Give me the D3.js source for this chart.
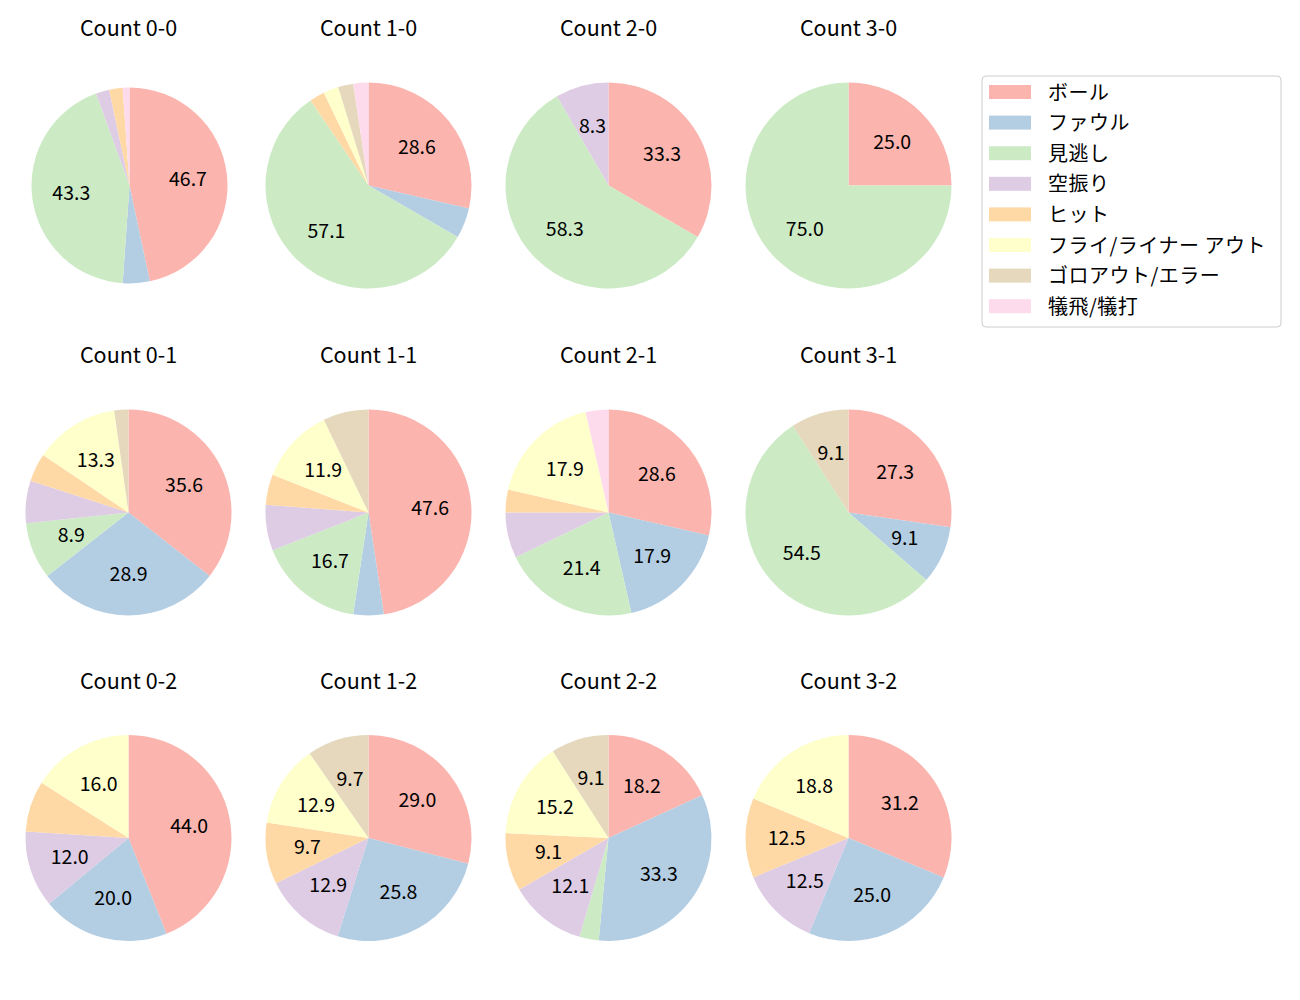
<!DOCTYPE html>
<html><head><meta charset="utf-8">
<script src="https://cdn.jsdelivr.net/npm/d3@7"></script>
<style>body{margin:0;background:#fff;} text{font-family:"Noto Sans CJK JP","Noto Sans",sans-serif;}</style>
</head><body>
<svg id="chart" width="1300" height="1000"></svg>
<script>
// Categories (legend order)
const categories = ["ボール","ファウル","見逃し","空振り","ヒット","フライ/ライナー アウト","ゴロアウト/エラー","犠飛/犠打"];
// Ball counts (one pie each)
const countLabels = ["0-0","1-0","2-0","3-0","0-1","1-1","2-1","3-1","0-2","1-2","2-2","3-2"];
// Series values: number of pitches per outcome, per count
const ball      = [42,12,4,1,16,20,8,3,11,9,6,5];
const foul      = [4,2,0,0,13,2,5,1,5,8,11,4];
const called    = [39,24,7,3,4,7,6,6,0,0,1,0];
const swinging  = [2,0,1,0,3,3,2,0,3,4,4,2];
const hit       = [2,1,0,0,2,2,1,0,2,3,3,2];
const flyLiner  = [0,1,0,0,6,5,5,0,4,4,5,3];
const grounder  = [0,1,0,0,1,3,0,1,0,3,3,0];
const sacrifice = [1,1,0,0,0,0,1,0,0,0,0,0];

const series = [ball,foul,called,swinging,hit,flyLiner,grounder,sacrifice];
const colors = ["#fbb4ae","#b3cde3","#ccebc5","#decbe4","#fed9a6","#ffffcc","#e5d8bd","#fddaec"];

// layout
const colX = [128.5,368.5,608.5,848.5];
const rowY = [185.5,512.5,838];
const radii = [98,103,103,103,103,103,103,103,103,103,103,103];

// Python-style "%.1f" (round half to even on exact halves)
function fmt1(x) {
  const s = x * 10, f = Math.floor(s), frac = s - f;
  let r;
  if (Math.abs(frac - 0.5) < 1e-9) r = (f % 2 === 0) ? f : f + 1;
  else r = Math.round(s);
  return (r / 10).toFixed(1);
}

const svg = d3.select("#chart");
const color = d3.scaleOrdinal().domain(categories).range(colors);
const pie = d3.pie().sort(null).value(d => d.v);

countLabels.forEach((lab, i) => {
  const col = i % 4, row = Math.floor(i / 4);
  const cx = colX[col] + (i === 0 ? 1 : 0), cy = rowY[row];
  const r = radii[i];
  const data = categories.map((c, k) => ({c, v: series[k][i]}));
  const total = d3.sum(data, d => d.v);
  const g = svg.append("g").attr("transform", `translate(${cx},${cy})`);
  const arc = d3.arc().innerRadius(0).outerRadius(r);
  const arcs = pie(data);
  g.selectAll("path").data(arcs).join("path")
    .attr("d", arc).attr("fill", d => color(d.data.c));
  const labelArc = d3.arc().innerRadius(r * 0.6).outerRadius(r * 0.6);
  g.selectAll("text.pct").data(arcs.filter(d => d.data.v / total * 100 > 8.1)).join("text")
    .attr("class", "pct")
    .attr("transform", d => `translate(${labelArc.centroid(d)})`)
    .attr("dy", -1.8)
    .attr("text-anchor", "middle").attr("dominant-baseline", "central")
    .attr("font-size", 19.5).attr("fill", "#000")
    .text(d => fmt1(d.data.v / total * 100));
  svg.append("text").attr("x", colX[col]).attr("y", cy - 149.5)
    .attr("text-anchor", "middle").attr("font-size", 21.5).attr("fill", "#000")
    .text("Count " + lab);
});

// legend
const lg = svg.append("g").attr("transform", "translate(982,76)");
lg.append("rect").attr("x", 0).attr("y", 0).attr("width", 299).attr("height", 251)
  .attr("rx", 4).attr("fill", "#fff").attr("fill-opacity", 0.8)
  .attr("stroke", "#cccccc").attr("stroke-width", 1);
const ly = d3.scaleLinear().domain([0, 1]).range([16, 46.6]);
categories.forEach((c, k) => {
  lg.append("rect").attr("x", 7).attr("y", ly(k) - 7).attr("width", 42).attr("height", 14)
    .attr("fill", color(c));
  lg.append("text").attr("x", 66).attr("y", ly(k) - 1).attr("dominant-baseline", "central")
    .attr("font-size", 20).attr("letter-spacing", 0.5).attr("fill", "#000").text(c);
});
</script>
</body></html>
